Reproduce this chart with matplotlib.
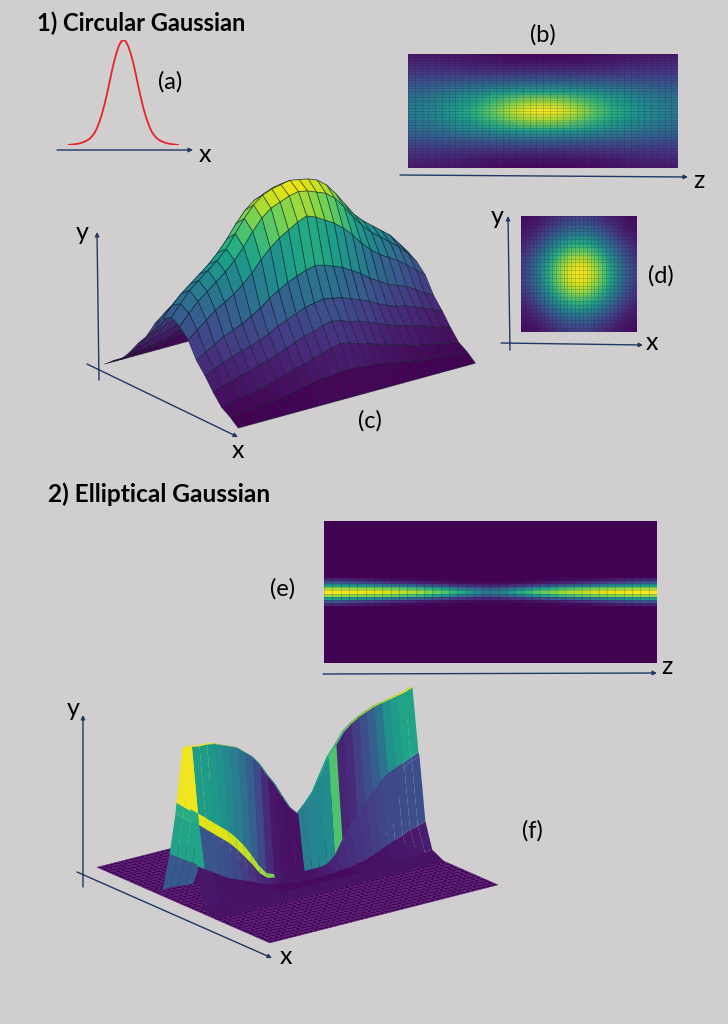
import numpy as np
import matplotlib
matplotlib.use('Agg')
import matplotlib.pyplot as plt
from matplotlib.colors import PowerNorm

plt.rcParams['font.family'] = ['Lato', 'DejaVu Sans']

W, H = 728, 1024
BG = '#D0CECE'
ARROW = '#1F3864'

# (a) half of the profile, from the peak outwards
curve_a = [1.0, 0.985, 0.94, 0.87, 0.785, 0.685, 0.575, 0.47, 0.375, 0.29, 0.22, 0.16,
           0.115, 0.085, 0.06, 0.045, 0.033, 0.024, 0.017, 0.012, 0.008, 0.005, 0.002, 0.0]

# (b) one quarter of the map, percent: rows go out from the axis, columns go out along z
map_b = [[100, 97, 88, 76, 65, 56, 49, 44, 41],
         [86, 84, 77, 68, 59, 52, 46, 42, 39],
         [58, 57, 54, 50, 46, 42, 38, 35, 33],
         [33, 33, 32, 31, 30, 28, 27, 26, 25],
         [16, 16, 16, 16, 16, 17, 17, 17, 17],
         [6, 6, 6, 7, 8, 9, 10, 11, 11],
         [1, 1, 2, 3, 4, 5, 6, 6, 7]]

# (d) one quarter of the cross section, percent
map_d = [[100, 96, 83, 64, 44, 28, 18],
         [96, 91, 79, 61, 42, 27, 17],
         [83, 79, 67, 50, 35, 22, 13],
         [64, 61, 50, 38, 26, 16, 9],
         [44, 42, 35, 26, 17, 10, 6],
         [28, 27, 22, 16, 10, 6, 4],
         [18, 17, 13, 9, 6, 4, 2]]

# (e) half of the lit band, percent: columns run from the edge to the middle of z
band_e = [[100, 100, 99, 98, 97, 96, 95, 93, 91, 89, 87, 84, 80, 76, 72, 66, 60, 52, 45, 40],
          [85, 85, 84, 83, 82, 81, 80, 78, 76, 73, 70, 67, 63, 58, 53, 47, 40, 35, 31, 28],
          [55, 55, 53, 51, 49, 47, 44, 41, 38, 35, 32, 29, 26, 23, 20, 17, 15, 13, 11, 10],
          [27, 27, 25, 23, 21, 19, 17, 15, 13, 11, 10, 8, 7, 6, 5, 4, 3, 3, 2, 2],
          [10, 10, 9, 8, 7, 6, 5, 4, 3, 3, 2, 2, 1, 1, 1, 1, 0, 0, 0, 0]]

# (c) quarter of the surface, percent: first row is the crest, columns run up to the middle of z
surf_c = [[43, 49, 55, 59, 63, 67, 72, 79, 86, 92, 96, 98, 99, 100],
          [40, 46, 51, 55, 59, 63, 68, 74, 81, 87, 91, 93, 95, 96],
          [35, 39, 43, 47, 50, 53, 57, 62, 68, 73, 77, 80, 83, 85],
          [26, 29, 32, 35, 37, 39, 42, 45, 49, 52, 55, 57, 59, 60],
          [20, 22, 24, 26, 28, 29, 31, 33, 36, 38, 40, 42, 43, 44],
          [13, 15, 16, 18, 19, 21, 22, 24, 26, 28, 30, 31, 33, 34],
          [7, 8, 9, 10, 11, 12, 14, 15, 17, 18, 20, 21, 23, 24],
          [4, 4, 5, 5, 6, 6, 7, 8, 9, 10, 11, 11, 12, 12],
          [0, 0, 0, 0, 0, 0, 0, 0, 0, 0, 0, 0, 0, 0]]

# (f) half sections of the ridge, percent, and how far each row sits from the ridge centre
surf_f = [[98, 98, 97, 97, 96, 94, 92, 90, 86, 82, 76, 68, 61, 52, 44, 39, 44, 50, 60, 70, 76, 83, 87, 90, 92, 94, 95, 96, 97, 98, 100],
          [62, 58, 54, 50, 46, 42, 37, 31, 24, 16, 10, 8, 6, 5, 5, 5, 5, 5, 6, 10, 19, 26, 32, 38, 44, 49, 53, 55, 57, 59, 61],
          [55, 51, 47, 43, 39, 35, 30, 24, 18, 11, 7, 6, 5, 4, 4, 4, 4, 4, 5, 8, 17, 24, 30, 36, 42, 47, 51, 53, 55, 57, 59],
          [28, 25, 22, 19, 16, 14, 12, 10, 8, 6, 5, 4, 3, 2, 2, 2, 2, 2, 2, 3, 3, 4, 5, 7, 9, 11, 13, 15, 17, 18, 20],
          [4, 4, 4, 3, 3, 3, 2, 2, 2, 1, 1, 1, 1, 1, 1, 1, 1, 1, 1, 1, 1, 1, 1, 1, 2, 2, 2, 3, 3, 4, 4],
          [0, 0, 0, 0, 0, 0, 0, 0, 0, 0, 0, 0, 0, 0, 0, 0, 0, 0, 0, 0, 0, 0, 0, 0, 0, 0, 0, 0, 0, 0, 0]]
offset_f = [0.005, 0.04, 0.046, 0.08, 0.12, 0.19]

# (f) colour of each band of cells along z, from the crest outwards
cells_f = [[.98, .98, .98, .97, .95, .9, .85, .8, .72, .65, .6, .55, .5, .5, .45, .45, .5, .55, .6, .68, .72, .76, .82, .85, .88, .9, .92, .95, .97, .98],
           [.98, .55, .55, .53, .5, .46, .42, .37, .3, .22, .12, .06, .05, .04, .04, .42, .45, .46, .48, .72, .1, .12, .18, .24, .3, .38, .5, .55, .58, .58],
           [.62, .95, .95, .95, .95, .92, .92, .9, .88, .85, .8, .06, .05, .05, .05, .05, .06, .08, .1, .12, .14, .15, .16, .18, .2, .22, .22, .23, .24, .24],
           [.58, .26, .26, .25, .24, .22, .18, .15, .12, .1, .08, .06, .05, .05, .05, .05, .06, .08, .1, .12, .14, .15, .16, .18, .2, .22, .22, .23, .24, .24],
           [.06, .06, .05, .05, .05, .05, .04, .04, .04, .04, .03, .03, .03, .03, .03, .03, .03, .03, .03, .03, .04, .04, .04, .05, .05, .06, .06, .07, .07, .08],
           [.05, .05, .05, .05, .05, .05, .05, .05, .05, .05, .05, .05, .05, .05, .05, .05, .05, .05, .05, .05, .05, .05, .05, .05, .05, .05, .05, .05, .05, .05]]
# the back flank shows only beside the near end, its first cells there
back_end_f = [.98, .62, .58, .28, .05]


def px_axes(x0, y0, x1, y1, **kw):
    # rectangle given in picture pixels, y down
    return fig.add_axes([x0 / W, 1 - y1 / H, (x1 - x0) / W, (y1 - y0) / H], **kw)


def heatmap(x0, y0, x1, y1, z, ncols, nrows, shading='gouraud'):
    ax = px_axes(x0, y0, x1, y1)
    if shading == 'gouraud':
        ax.pcolormesh(np.linspace(0, 1, z.shape[1]), np.linspace(0, 1, z.shape[0]), z,
                      cmap='viridis', vmin=0, vmax=1, shading='gouraud')
    else:
        ax.pcolormesh(np.linspace(0, 1, z.shape[1] + 1), np.linspace(0, 1, z.shape[0] + 1), z,
                      cmap='viridis', vmin=0, vmax=1, shading='flat')
    ax.vlines(np.linspace(0, 1, ncols + 1), 0, 1, color='#1a1a3a', lw=0.4, alpha=0.3)
    ax.hlines(np.linspace(0, 1, nrows + 1), 0, 1, color='#1a1a3a', lw=0.4, alpha=0.3)
    ax.set_xlim(0, 1)
    ax.set_ylim(0, 1)
    ax.axis('off')
    return ax


def axes3d(cx, cy, size, lengths, elev, azim, zoom):
    # (cx, cy) is where the middle of the box lands, in picture pixels
    x0 = cx - 0.95 / 1.85 * size
    y1 = cy + 0.95 / 1.85 * size
    ax = px_axes(x0, y1 - size, x0 + size, y1, projection='3d', proj_type='ortho',
                 computed_zorder=False)
    ax.view_init(elev=elev, azim=azim)
    ax.set_box_aspect(lengths, zoom=zoom)
    ax.set_xlim(0, 1)
    ax.set_ylim(0, 1)
    ax.set_zlim(0, 1)
    ax.set_axis_off()
    ax.patch.set_alpha(0)
    return ax


fig = plt.figure(figsize=(W / 100, H / 100), dpi=100, facecolor=BG)

# (a)
ax_a = px_axes(68, 40, 179, 145)
ya = np.array(curve_a)
ya = np.concatenate([ya[:0:-1], ya])
ax_a.plot(np.arange(len(ya)), ya, color='#E8232A', lw=1.3)
ax_a.set_xlim(0, len(ya) - 1)
ax_a.set_ylim(0, 1)
ax_a.axis('off')

# (b)
q = np.array(map_b, dtype=float) / 100
half = np.hstack([q[:, :0:-1], q])
heatmap(408, 54, 678, 168, np.vstack([half[:0:-1], half]), 40, 40)

# (d)
q = np.array(map_d, dtype=float) / 100
half = np.hstack([q[:, :0:-1], q])
heatmap(521, 216, 637, 332, np.vstack([half[:0:-1], half]), 30, 30)

# (e)
q = np.array(band_e, dtype=float) / 100
half = np.hstack([q, q[:, ::-1]])
blank = np.zeros((18, half.shape[1]))
heatmap(324, 521, 657, 663, np.vstack([blank, half[:0:-1], half, blank]), 40, 45, shading='flat')

# (c)
ax_c = axes3d(290, 272, 500, (222, 298, 197), 21.2, -37.1, 0.815)
q = np.array(surf_c, dtype=float) / 100
half = np.hstack([q, q[:, -2::-1]])
zc = np.vstack([half[:0:-1], half])
xc = np.linspace(0, 1, zc.shape[0])
yc = np.linspace(0, 1, zc.shape[1])
Yc, Xc = np.meshgrid(yc, xc)
ax_c.plot_surface(Xc, Yc, zc, cmap='viridis', norm=PowerNorm(1.5, vmin=0, vmax=1), rstride=1, cstride=1,
                  shade=False, linewidth=0.6, edgecolor=(0.05, 0.1, 0.15, 0.55))

# (f)
ax_f = axes3d(297.5, 796, 560, (285, 287, 170), 19.5, -37.3, 0.76)
xg = np.linspace(0, 1, 46)
yg = np.linspace(0, 1, 46)
Yg, Xg = np.meshgrid(yg, xg)
ax_f.plot_surface(Xg, Yg, np.zeros_like(Xg), color='#440154', rstride=1, cstride=1,
                  shade=False, linewidth=0.4, edgecolor='#5E2A80', zorder=1)
zf = np.array(surf_f, dtype=float) / 100
zf = np.vstack([zf[::-1], zf])
xf = np.concatenate([0.5 - np.array(offset_f)[::-1], 0.5 + np.array(offset_f)])
yf = np.linspace(0, 1, zf.shape[1])
Yf, Xf = np.meshgrid(yf, xf)
cf = np.array(cells_f)
back = cf.copy()
back[1:, :4] = np.array(back_end_f).reshape(-1, 1)
cf = np.vstack([back[:0:-1], cf])
ax_f.plot_surface(Xf, Yf, zf, facecolors=plt.get_cmap('viridis')(cf), rstride=1, cstride=1,
                  shade=False, linewidth=0, zorder=2)

# overlay for labels and axis arrows, in picture pixels
over = fig.add_axes([0, 0, 1, 1], zorder=5)
over.set_xlim(0, W)
over.set_ylim(H, 0)
over.axis('off')
over.patch.set_alpha(0)

arrows = [((57, 150), (193, 150)), ((400, 175), (688, 177)),
          ((99, 380), (97, 232)), ((87, 364), (238, 437)),
          ((510, 350), (508, 216)), ((501, 343), (643, 345)),
          ((323, 674), (657, 673)),
          ((83, 887), (83, 715)), ((77, 872), (272, 958))]
for p0, p1 in arrows:
    over.annotate('', xy=p1, xytext=p0,
                  arrowprops=dict(arrowstyle='-|>', color=ARROW, lw=1, mutation_scale=6,
                                  shrinkA=0, shrinkB=0))

over.text(37, 23, '1) Circular Gaussian', fontsize=17, fontweight='bold', va='center', ha='left')
over.text(48, 494, '2) Elliptical Gaussian', fontsize=17.6, fontweight='bold', va='center', ha='left')

labels = [(170, 82, '(a)'), (543, 35, '(b)'), (370, 421, '(c)'), (661, 276, '(d)'),
          (283, 589, '(e)'), (532, 831, '(f)')]
for lx, ly, s in labels:
    over.text(lx, ly, s, fontsize=17, ha='center', va='center')

axis_names = [(205, 155, 'x'), (699, 180, 'z'), (497, 217, 'y'), (652, 342, 'x'),
              (82, 232, 'y'), (238, 450, 'x'), (667, 667, 'z'), (73, 708, 'y'), (286, 957, 'x')]
for lx, ly, s in axis_names:
    over.text(lx, ly, s, fontsize=18, ha='center', va='center')

fig.savefig('out.png', dpi=100, facecolor=BG)
